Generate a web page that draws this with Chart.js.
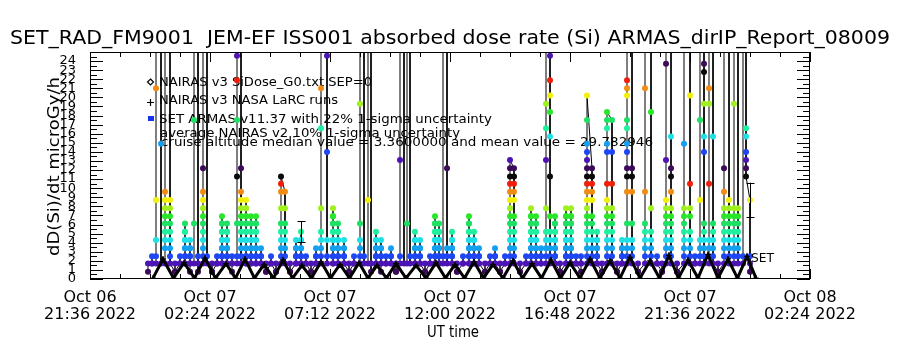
<!DOCTYPE html>
<html lang="en">
<head>
<meta charset="UTF-8" />
<title>SET_RAD_FM9001 JEM-EF ISS001 absorbed dose rate</title>
<script src="https://cdn.jsdelivr.net/npm/chart.js@4.4.1/dist/chart.umd.min.js"></script>
<style>
  html, body { margin: 0; padding: 0; background: #fff; }
</style>
</head>
<body>
<canvas id="chart" width="900" height="350"></canvas>
<script>
  // x values are hours after Oct 06 2022 21:36 UT, y values are microGy/h
  const xTickHours = [0, 4.8, 9.6, 14.4, 19.2, 24.0, 28.8];
  const xTickLabels = [
    ["Oct 06", "21:36 2022"], ["Oct 07", "02:24 2022"], ["Oct 07", "07:12 2022"],
    ["Oct 07", "12:00 2022"], ["Oct 07", "16:48 2022"], ["Oct 07", "21:36 2022"],
    ["Oct 08", "02:24 2022"]
  ];
  const yTickValues = [0, 1, 2, 3, 4, 5, 6, 7, 8, 9, 10, 11, 12, 13, 14, 15, 16, 17, 18, 19, 20, 21, 22, 23, 24];

  const titleText = "SET_RAD_FM9001  JEM-EF ISS001 absorbed dose rate (Si) ARMAS_dirIP_Report_08009";
  const legendLines = [
    "NAIRAS v3 SiDose_G0.txt SEP=0",
    "NAIRAS v3 NASA LaRC runs",
    "SET ARMAS v11.37 with 22% 1-sigma uncertainty",
    "average NAIRAS v2 10% 1-sigma uncertainty",
    "cruise altitude median value = 3.3600000 and mean value = 29.782946"
  ];

  // NAIRAS model: orbit humps (valley, peak, valley ...)
  const nairasHours = [2.52, 2.92, 3.34, 3.76, 4.18, 4.60, 5.02, 5.44, 5.82, 6.20, 6.58, 6.96, 7.34, 7.72, 8.10, 8.48,
    8.86, 9.24, 9.62, 10.00, 10.38, 10.76, 11.12, 11.48, 11.86, 12.24, 12.64, 13.04, 13.44, 13.84, 14.22, 14.60,
    14.98, 15.36, 15.74, 16.12, 16.52, 16.92, 17.30, 17.68, 18.06, 18.44, 18.82, 19.20, 19.60, 20.00, 20.40, 20.80,
    21.20, 21.60, 22.00, 22.40, 22.78, 23.16, 23.54, 23.92, 24.32, 24.72, 25.12, 25.52, 25.90, 26.28, 26.64];
  const nairasDose = [0.1, 2.2, 0.1, 1.8, 0.1, 2.3, 0.1, 1.7, 0.1, 2.2, 0.1, 1.6, 0.1, 2.1, 0.1, 1.5,
    0.1, 1.9, 0.1, 1.6, 0.1, 1.8, 0.1, 1.5, 0.1, 1.7, 0.1, 1.5, 0.1, 1.8, 0.1, 1.6,
    0.1, 1.9, 0.1, 1.6, 0.1, 2.0, 0.1, 1.7, 0.1, 2.1, 0.1, 1.8, 0.1, 2.2, 0.1, 2.0,
    0.1, 2.4, 0.1, 2.0, 0.1, 2.6, 0.1, 2.1, 0.1, 2.7, 0.1, 2.2, 0.1, 2.5, 0.1];

  // SET ARMAS samples: [hour, dose samples in time order at that hour]
  const armasA = [
    [2.32, [0.8, 1.7]],
    [2.48, [1.7, 2.5, 1.7]],
    [2.64, [1.7, 2.5, 4.3, 8.7, 21, 60]],
    [2.84, [60, 14.9, 1.7]],
    [3.00, [1.7, 3.4, 4.3, 5.2, 6.1, 6.9, 7.8, 8.7, 9.6, 45]],
    [3.20, [45, 8.7, 7.8, 6.9, 6.1, 5.2, 4.3, 3.4, 2.5, 1.7]],
    [3.40, [0.8, 1.7, 0.8]],
    [3.60, [1.7, 2.5, 1.7]],
    [3.80, [1.7, 2.5, 3.4, 4.3, 5.2, 6.1, 5.2, 4.3, 3.4, 2.5, 1.7]],
    [4.00, [0.8, 1.7, 2.5, 3.4, 4.3, 3.4, 2.5, 1.7]],
    [4.16, [1.7, 6.1, 17.5, 80]],
    [4.32, [80, 2.5, 1.7, 0.8]],
    [4.52, [1.7, 2.5, 3.4, 4.3, 5.2, 6.1, 6.9, 7.8, 8.7, 9.6, 12.2, 50]],
    [4.68, [50, 2.5, 1.7]],
    [4.88, [0.8, 1.7, 0.8]],
    [5.08, [1.7, 2.5, 1.7]],
    [5.28, [1.7, 2.5, 3.4, 4.3, 5.2, 6.1, 6.9, 6.1, 5.2, 4.3, 3.4, 2.5, 1.7]],
    [5.48, [1.7, 2.5, 3.4, 4.3, 5.2, 6.1, 5.2, 4.3, 3.4, 2.5, 1.7]],
    [5.68, [0.8, 1.7, 2.5, 1.7]],
    [5.88, [1.7, 2.5, 6.1, 11.3, 17.5, 21.9, 24.6, 120]],
    [6.04, [120, 12.2, 9.6, 8.7, 7.8, 6.9, 6.1, 5.2, 4.3, 3.4, 2.5, 1.7]],
    [6.24, [1.7, 2.5, 3.4, 4.3, 5.2, 6.1, 6.9, 7.8, 8.7, 7.8, 6.9, 6.1, 5.2, 4.3, 3.4, 2.5, 1.7]],
    [6.44, [1.7, 2.5, 3.4, 4.3, 5.2, 6.1, 6.9, 6.1, 5.2, 4.3, 3.4, 2.5, 1.7]],
    [6.64, [1.7, 2.5, 3.4, 4.3, 5.2, 6.1, 6.9, 6.1, 5.2, 4.3, 3.4, 2.5, 1.7]],
    [6.84, [1.7, 2.5, 3.4, 2.5, 1.7]],
    [7.04, [0.8, 1.7, 0.8]],
    [7.24, [1.7, 2.5, 1.7]],
    [7.44, [0.8, 1.7, 0.8]],
    [7.64, [1.7, 2.5, 3.4, 4.3, 5.2, 6.1, 7.8, 9.6, 10.5, 11.3]],
    [7.80, [9.6, 7.8, 6.1, 5.2, 4.3, 3.4, 2.5, 1.7]]
  ];
  const armasB = [
    [8.00, [0.8, 1.7, 0.8]],
    [8.24, [1.7, 2.5, 3.4, 4.3, 3.4, 2.5, 1.7]],
    [8.44, [1.7, 2.5, 3.4, 4.3, 5.2, 4.3, 3.4, 2.5, 1.7]],
    [8.64, [1.7, 2.5, 1.7]],
    [8.84, [0.8, 1.7, 0.8]],
    [9.04, [1.7, 2.5, 3.4, 2.5, 1.7]],
    [9.24, [1.7, 2.5, 3.4, 4.3, 5.2, 7.8, 16.6, 21, 70]],
    [9.48, [70, 24.6, 14, 4.3, 2.5, 1.7]],
    [9.72, [1.7, 2.5, 3.4, 4.3, 5.2, 6.1, 6.9, 7.8, 6.9, 6.1, 5.2, 4.3, 3.4, 2.5, 1.7]],
    [9.92, [1.7, 2.5, 3.4, 4.3, 5.2, 6.1, 5.2, 4.3, 3.4, 2.5, 1.7]],
    [10.16, [1.7, 2.5, 3.4, 4.3, 3.4, 2.5, 1.7]],
    [10.36, [0.8, 1.7, 0.8]],
    [10.56, [1.7, 2.5, 1.7]],
    [10.80, [1.7, 2.5, 3.4, 4.3, 6.1, 19.3, 55]],
    [10.96, [55, 2.5, 1.7]],
    [11.12, [1.7, 8.7, 65]],
    [11.24, [65, 1.7, 0.8]],
    [11.44, [1.7, 2.5, 3.4, 4.3, 5.2, 4.3, 3.4, 2.5, 1.7]],
    [11.64, [0.8, 1.7, 2.5, 3.4, 4.3, 3.4, 2.5, 1.7]],
    [11.84, [1.7, 2.5, 1.7]],
    [12.04, [1.7, 2.5, 3.4, 2.5, 1.7]],
    [12.24, [0.8, 1.7, 0.8]],
    [12.40, [1.7, 2.5, 13.1, 90]],
    [12.56, [90, 1.7]],
    [12.68, [1.7, 6.1, 40]],
    [12.80, [40, 2.5, 1.7]],
    [13.00, [1.7, 2.5, 3.4, 4.3, 5.2, 4.3, 3.4, 2.5, 1.7]],
    [13.20, [1.7, 2.5, 3.4, 4.3, 3.4, 2.5, 1.7]],
    [13.40, [0.8, 1.7, 0.8]],
    [13.60, [1.7, 2.5, 1.7]],
    [13.80, [1.7, 2.5, 3.4, 4.3, 5.2, 6.1, 6.9, 6.1, 5.2, 4.3, 3.4, 2.5, 1.7]],
    [13.96, [1.7, 2.5, 3.4, 4.3, 5.2, 6.1, 5.2, 4.3, 3.4, 2.5, 1.7]]
  ];
  const armasC = [
    [14.12, [1.7, 2.5, 75]],
    [14.28, [75, 12.2, 3.4, 2.5, 1.7]],
    [14.48, [1.7, 2.5, 3.4, 4.3, 5.2, 4.3, 3.4, 2.5, 1.7]],
    [14.68, [0.8, 1.7, 0.8]],
    [14.92, [1.7, 2.5, 1.7]],
    [15.16, [1.7, 2.5, 3.4, 4.3, 5.2, 6.1, 6.9, 6.1, 5.2, 4.3, 3.4, 2.5, 1.7]],
    [15.36, [1.7, 2.5, 3.4, 4.3, 5.2, 4.3, 3.4, 2.5, 1.7]],
    [15.56, [1.7, 2.5, 3.4, 2.5, 1.7]],
    [15.80, [0.8, 1.7, 0.8]],
    [16.00, [1.7, 2.5, 1.7]],
    [16.20, [1.7, 2.5, 3.4, 2.5, 1.7]],
    [16.40, [0.8, 1.7, 0.8]],
    [16.60, [1.7, 2.5, 1.7]],
    [16.80, [1.7, 2.5, 3.4, 4.3, 5.2, 6.1, 6.9, 7.8, 8.7, 9.6, 10.5, 11.3, 12.2, 13.1]],
    [16.96, [12.2, 11.3, 10.5, 9.6, 8.7, 6.9, 6.1, 5.2, 4.3, 3.4, 2.5, 1.7]],
    [17.20, [0.8, 1.7, 0.8]],
    [17.44, [1.7, 2.5, 1.7]],
    [17.64, [1.7, 2.5, 3.4, 4.3, 5.2, 6.1, 6.9, 7.8, 6.9, 6.1, 5.2, 4.3, 3.4, 2.5, 1.7]],
    [17.84, [1.7, 2.5, 3.4, 4.3, 5.2, 6.1, 6.9, 6.1, 5.2, 4.3, 3.4, 2.5, 1.7]],
    [18.04, [1.7, 2.5, 3.4, 2.5, 1.7]],
    [18.24, [1.7, 2.5, 3.4, 4.3, 5.2, 7.8, 13.1, 16.6, 19.3, 200]],
    [18.40, [200, 24.6, 21.9, 20.2, 18.4, 15.7, 11.3, 6.9, 5.2, 4.3, 3.4, 2.5, 1.7]],
    [18.60, [1.7, 2.5, 3.4, 4.3, 5.2, 6.1, 6.9, 6.1, 5.2, 4.3, 3.4, 2.5, 1.7]],
    [18.80, [0.8, 1.7, 0.8]],
    [19.04, [1.7, 2.5, 3.4, 4.3, 5.2, 6.1, 6.9, 7.8, 6.9, 6.1, 5.2, 4.3, 3.4, 2.5, 1.7]],
    [19.24, [1.7, 2.5, 3.4, 4.3, 5.2, 6.1, 6.9, 7.8, 6.9, 6.1, 5.2, 4.3, 3.4, 2.5, 1.7]],
    [19.44, [1.7, 2.5, 1.7]],
    [19.64, [0.8, 1.7, 2.5, 1.7]]
  ];
  const armasD = [
    [19.88, [1.7, 2.5, 3.4, 4.3, 5.2, 6.1, 6.9, 7.8, 8.7, 9.6, 10.5, 11.3, 12.2, 13.1, 14, 14.9, 17.5, 20.2]],
    [20.08, [12.2, 11.3, 10.5, 9.6, 8.7, 6.9, 6.1, 5.2, 4.3, 3.4, 2.5, 1.7]],
    [20.28, [1.7, 2.5, 3.4, 4.3, 5.2, 4.3, 3.4, 2.5, 1.7]],
    [20.48, [0.8, 1.7, 0.8]],
    [20.68, [1.7, 2.5, 3.4, 4.3, 5.2, 6.1, 6.9, 7.8, 8.7, 10.5, 14, 14.9, 16.6, 17.5, 18.4]],
    [20.88, [17.5, 14, 10.5, 7.8, 6.9, 6.1, 5.2, 4.3, 3.4, 2.5, 1.7]],
    [21.08, [0.8, 1.7, 0.8]],
    [21.28, [1.7, 2.5, 3.4, 4.3, 3.4, 2.5, 1.7]],
    [21.48, [1.7, 2.5, 3.4, 4.3, 6.1, 9.6, 11.3, 12.2, 14, 14.9, 16.6, 17.5, 20.2, 21, 21.9, 110]],
    [21.68, [110, 12.2, 11.3, 9.6, 6.1, 4.3, 3.4, 2.5, 1.7]],
    [21.92, [0.8, 1.7, 0.8]],
    [22.20, [1.7, 2.5, 3.4, 4.3, 5.2, 6.1, 9.6, 21, 85]],
    [22.44, [85, 18.4, 7.8, 5.2, 4.3, 3.4, 2.5, 1.7]],
    [22.68, [1.7, 2.5, 1.7]],
    [22.88, [0.8, 1.7, 0.8]],
    [23.04, [1.7, 2.5, 3.4, 4.3, 5.2, 6.1, 6.9, 7.8, 8.7, 13.1, 23.7, 150]],
    [23.24, [150, 15.7, 12.2, 11.3, 9.6, 7.8, 6.9, 6.1, 5.2, 4.3, 3.4, 2.5, 1.7]],
    [23.48, [0.8, 1.7, 0.8]],
    [23.76, [1.7, 2.5, 3.4, 4.3, 5.2, 6.1, 6.9, 7.8, 14.9, 60]],
    [24.00, [60, 20.2, 10.5, 7.8, 6.9, 5.2, 4.3, 3.4, 2.5, 1.7]],
    [24.20, [1.7, 2.5, 1.7]],
    [24.40, [1.7, 2.5, 3.4, 4.3, 8.7, 17.5, 95]],
    [24.56, [95, 23.7, 22.8, 19.3, 15.7, 14, 6.1, 5.2, 4.3, 3.4, 2.5, 1.7]],
    [24.76, [1.7, 2.5, 3.4, 4.3, 10.5, 19.3, 21, 70]],
    [24.92, [70, 15.7, 6.1, 5.2, 4.3, 3.4, 2.5, 1.7]],
    [25.12, [0.8, 1.7, 0.8]],
    [25.36, [1.7, 2.5, 3.4, 4.3, 5.2, 6.1, 6.9, 7.8, 9.6, 12.2, 50]],
    [25.56, [50, 8.7, 7.8, 6.9, 6.1, 5.2, 4.3, 3.4, 2.5, 1.7]],
    [25.76, [1.7, 2.5, 3.4, 4.3, 5.2, 6.1, 6.9, 7.8, 19.3, 130]],
    [25.92, [130, 7.8, 6.9, 6.1, 5.2, 4.3, 3.4, 2.5, 1.7]],
    [26.12, [1.7, 2.5, 90]],
    [26.24, [90, 16.6, 15.7, 14, 13.1, 12.2, 11.3]],
    [26.40, [8.7, 2.5, 1.7, 0.8]]
  ];

  // 22% 1-sigma error bars
  const errHours = [8.44, 26.40];
  const errDose = [5.2, 8.7];
  const errFrac = 0.22;

  // IDL style colour table, cycles every 13 dose steps
  const palette = ["#3c0a5a", "#4c14b4", "#1e46f5", "#14a0f0", "#1ee1e6", "#1ef0a0", "#1ee164",
    "#28e628", "#a0f01e", "#f0f00a", "#f08c14", "#f01e0a", "#0a0a0a"];
  function levelColor(v) {
    const k = Math.round((v - 0.77) / 0.881);
    return palette[((k % 13) + 13) % 13];
  }

  const FONT = '"DejaVu Sans", sans-serif';

  const nairasPts = nairasHours.map((h, i) => ({ x: h, y: nairasDose[i] }));
  const armasPts = [];
  [armasA, armasB, armasC, armasD].forEach((block) => {
    block.forEach(([h, vals]) => vals.forEach((v) => armasPts.push({ x: h, y: v })));
  });

  function fitText(ctx, text, x, y, width, size) {
    ctx.save();
    ctx.font = size + "px " + FONT;
    ctx.textAlign = "left";
    ctx.textBaseline = "alphabetic";
    const w = ctx.measureText(text).width;
    ctx.translate(x, y);
    ctx.scale(width / w, 1);
    ctx.fillText(text, 0, 0);
    ctx.restore();
  }

  const idlPlugin = {
    id: "idl",
    beforeDatasetsDraw(chart) {
      const ctx = chart.ctx;
      ctx.fillStyle = "#000";
      fitText(ctx, legendLines[0], 159, 86, 213, 13);
      fitText(ctx, legendLines[1], 159, 104, 179, 13);
      fitText(ctx, legendLines[2], 159, 123, 333, 13);
      fitText(ctx, legendLines[3], 160, 137, 300, 13);
      fitText(ctx, legendLines[4], 161, 146, 492, 13);
      // legend symbols
      ctx.save();
      ctx.strokeStyle = "#000";
      ctx.lineWidth = 1.2;
      ctx.beginPath();
      ctx.moveTo(150.5, 79); ctx.lineTo(153.5, 82); ctx.lineTo(150.5, 85); ctx.lineTo(147.5, 82); ctx.closePath();
      ctx.stroke();
      ctx.beginPath();
      ctx.moveTo(147, 102.5); ctx.lineTo(154, 102.5);
      ctx.moveTo(150.5, 99); ctx.lineTo(150.5, 106);
      ctx.stroke();
      ctx.fillStyle = "#1432f0";
      ctx.fillRect(148, 116, 6, 5);
      ctx.restore();
    },
    afterDatasetsDraw(chart) {
      const ctx = chart.ctx;
      const xs = chart.scales.x, ys = chart.scales.y;
      ctx.save();
      ctx.strokeStyle = "#000";
      ctx.lineWidth = 1;
      errHours.forEach((h, i) => {
        const x = Math.round(xs.getPixelForValue(h)) + 0.5;
        const y1 = ys.getPixelForValue(errDose[i] * (1 + errFrac));
        const y2 = ys.getPixelForValue(errDose[i] * (1 - errFrac));
        ctx.beginPath();
        ctx.moveTo(x, y1); ctx.lineTo(x, y2);
        ctx.moveTo(x - 4, Math.round(y1) + 0.5); ctx.lineTo(x + 4, Math.round(y1) + 0.5);
        ctx.moveTo(x - 4, Math.round(y2) + 0.5); ctx.lineTo(x + 4, Math.round(y2) + 0.5);
        ctx.stroke();
      });
      // SET label next to the last sample
      const last = armasPts[armasPts.length - 1];
      ctx.fillStyle = "#000";
      fitText(ctx, "SET", xs.getPixelForValue(last.x) + 1, ys.getPixelForValue(1.9), 23, 13);
      ctx.restore();
    },
    afterDraw(chart) {
      const ctx = chart.ctx;
      const a = chart.chartArea;
      const xs = chart.scales.x, ys = chart.scales.y;
      ctx.save();
      ctx.strokeStyle = "#000";
      ctx.lineWidth = 1;
      ctx.strokeRect(a.left + 0.5, a.top + 0.5, a.right - a.left - 1, a.bottom - a.top - 1);
      ctx.beginPath();
      // x ticks, major every 4.8 h, minor every 1.2 h, on bottom and top
      for (let i = 0; i <= 24; i++) {
        const x = Math.round(xs.getPixelForValue(i * 1.2)) + 0.5;
        const len = i % 4 === 0 ? 10 : 5;
        ctx.moveTo(x, a.bottom); ctx.lineTo(x, a.bottom - len);
        ctx.moveTo(x, a.top); ctx.lineTo(x, a.top + len);
      }
      // y ticks, every 0.5 on left and right
      for (let i = 0; i <= 50; i++) {
        const y = Math.round(ys.getPixelForValue(i * 0.5)) + 0.5;
        const len = i % 2 === 0 ? 13 : 7;
        ctx.moveTo(a.left, y); ctx.lineTo(a.left + len, y);
        ctx.moveTo(a.right, y); ctx.lineTo(a.right - len, y);
      }
      ctx.stroke();

      ctx.fillStyle = "#000";
      fitText(ctx, titleText, 10, 44, 880, 20);
      // axis titles
      ctx.save();
      ctx.translate(59, 256);
      ctx.rotate(-Math.PI / 2);
      fitText(ctx, "dD(Si)/dt microGy/h", 0, 0, 179, 16);
      ctx.restore();
      fitText(ctx, "UT time", 427, 337, 52, 15);
      ctx.restore();
    }
  };

  new Chart(document.getElementById("chart"), {
    type: "line",
    data: {
      datasets: [
        {
          label: legendLines[0],
          data: nairasPts,
          borderColor: "#000",
          borderWidth: 3,
          pointRadius: 0,
          tension: 0,
          order: 0
        },
        {
          label: legendLines[1],
          data: nairasPts,
          showLine: false,
          pointStyle: "cross",
          pointRadius: 3,
          pointBorderColor: "#000",
          pointBorderWidth: 1,
          order: 0
        },
        {
          label: legendLines[2],
          data: armasPts,
          borderColor: "#000",
          borderWidth: 1,
          tension: 0,
          pointRadius: 3,
          pointBorderWidth: 0,
          pointBackgroundColor: (c) => (c.raw ? levelColor(c.raw.y) : "#000"),
          order: 1
        }
      ]
    },
    options: {
      responsive: false,
      animation: false,
      devicePixelRatio: 1,
      layout: { padding: { top: 52, right: 90, left: 0, bottom: 0 } },
      plugins: { legend: { display: false }, tooltip: { enabled: false }, title: { display: false } },
      scales: {
        x: {
          type: "linear",
          min: 0,
          max: 28.8,
          afterBuildTicks: (s) => { s.ticks = xTickHours.map((v) => ({ value: v })); },
          afterFit: (s) => { s.height = 71; },
          grid: { display: false },
          border: { display: false },
          ticks: {
            autoSkip: false,
            maxRotation: 0,
            padding: 2,
            color: "#000",
            font: { family: FONT, size: 16, lineHeight: 1.06 },
            callback: (v, i) => xTickLabels[i]
          }
        },
        y: {
          type: "linear",
          min: 0,
          max: 25,
          afterBuildTicks: (s) => { s.ticks = yTickValues.map((v) => ({ value: v })); },
          afterFit: (s) => { s.width = 90; },
          grid: { display: false },
          border: { display: false },
          ticks: {
            autoSkip: false,
            padding: 6,
            color: "#000",
            font: { family: FONT, size: 13 },
            callback: (v, i) => String(yTickValues[i])
          }
        }
      }
    },
    plugins: [idlPlugin]
  });
</script>
</body>
</html>
